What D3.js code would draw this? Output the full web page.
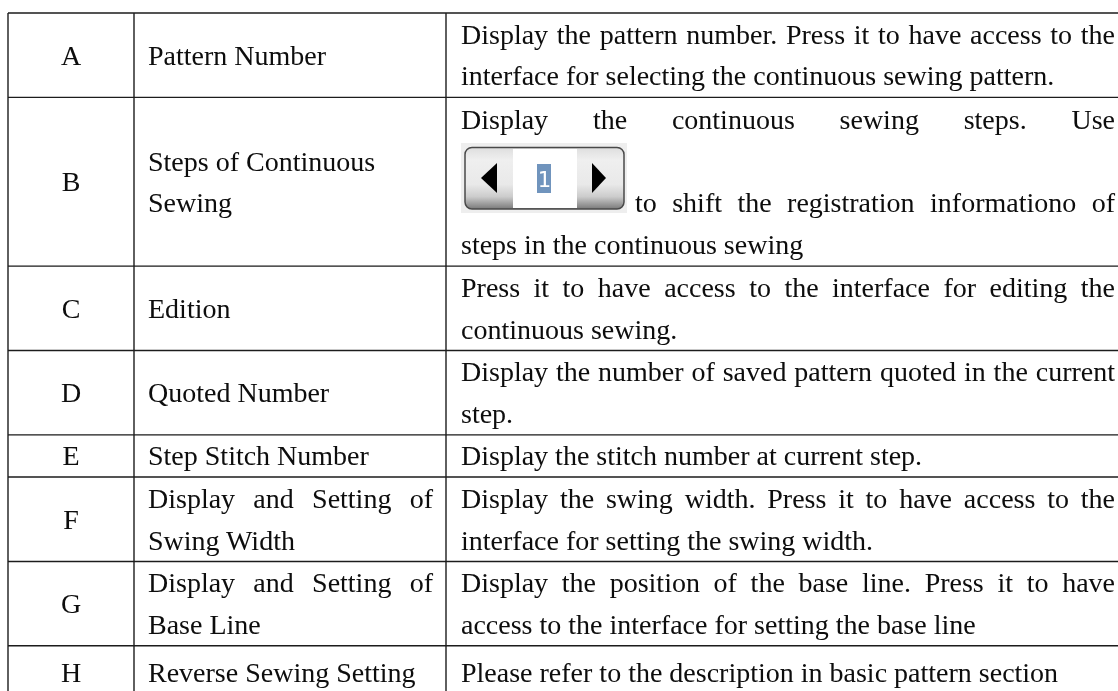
<!DOCTYPE html>
<html><head><meta charset="utf-8">
<script src="https://cdn.jsdelivr.net/npm/d3@7"></script>
<style>html,body{margin:0;padding:0;background:#fff}svg{display:block}</style></head>
<body><div id="c"></div>
<script>
const W=1118,H=691;
const rowKeys=["A","B","C","D","E","F","G","H"];
const rowUnits=[2,4,2,2,1,2,2,1.25];
const names=[["Pattern Number"],["Steps of Continuous","Sewing"],["Edition"],["Quoted Number"],["Step Stitch Number"],["Display and Setting of","Swing Width"],["Display and Setting of","Base Line"],["Reverse Sewing Setting"]];
const nameJustify=[[0],[0,0],[0],[0],[0],[1,0],[1,0],[0]];
const descriptions=[
["Display the pattern number. Press it to have access to the","interface for selecting the continuous sewing pattern."],
["Display the continuous sewing steps. Use","","to shift the registration informationo of","steps in the continuous sewing"],
["Press it to have access to the interface for editing the","continuous sewing."],
["Display the number of saved pattern quoted in the current","step."],
["Display the stitch number at current step."],
["Display the swing width. Press it to have access to the","interface for setting the swing width."],
["Display the position of the base line. Press it to have","access to the interface for setting the base line"],
["Please refer to the description in basic pattern section"]];
const descJustify=[[1,0],[1,0,1,0],[1,0],[1,0],[0],[1,0],[1,0],[0]];

const cum=[0];rowUnits.forEach(u=>cum.push(cum[cum.length-1]+u));
const y=d3.scaleLinear().domain([0,16]).range([13,688]);
const x=d3.scaleOrdinal().domain(["l","a","b","end"]).range([8,134,446,1118]);
const FS=28,LH=41.5;
const svg=d3.select("#c").append("svg").attr("width",W).attr("height",H).attr("viewBox",`0 0 ${W} ${H}`);
const defs=svg.append("defs");
const g1=defs.append("linearGradient").attr("id","btn").attr("x1",0).attr("x2",0).attr("y1",0).attr("y2",1);
[[0,"#dedede"],[0.2,"#efefef"],[0.6,"#e9e9e9"],[0.8,"#cccccc"],[1,"#7a7a7a"]].forEach(s=>g1.append("stop").attr("offset",s[0]).attr("stop-color",s[1]));
defs.append("filter").attr("id","soft").append("feGaussianBlur").attr("stdDeviation",0.35);
const root=svg.append("g").attr("filter","url(#soft)");

// rules
const rules=root.append("g").attr("stroke","#1c1c1c").attr("stroke-width",1.4);
cum.slice(0,-1).forEach(c=>rules.append("line").attr("x1",x("l")).attr("x2",W).attr("y1",y(c)).attr("y2",y(c)));
x.domain().slice(0,3).forEach(k=>rules.append("line").attr("x1",x(k)).attr("x2",x(k)).attr("y1",y(0)).attr("y2",H));

const text=root.append("g").attr("font-family","'Liberation Serif','Times New Roman',serif").attr("font-size",FS).attr("fill","#0a0a0a");
function drawLine(str,x0,x1,base,justify){
  if(!str)return;
  if(!justify){text.append("text").attr("x",x0).attr("y",base).text(str);return;}
  const words=str.split(" ");
  const ws=words.map(w=>{const t=text.append("text").attr("y",base).text(w);const l=t.node().getComputedTextLength();return{t,l};});
  const gap=(x1-x0-d3.sum(ws,d=>d.l))/(words.length-1);
  let p=x0;ws.forEach(d=>{d.t.attr("x",p);p+=d.l+gap;});
}
const base=(top,bot,n,i)=>(top+bot)/2+(i-(n-1)/2)*LH+9.5;
rowKeys.forEach((k,i)=>{
  const t=y(cum[i]),b=y(cum[i+1]);
  text.append("text").attr("x",(x("l")+x("a"))/2).attr("y",base(t,b,1,0)).attr("text-anchor","middle").text(k);
  names[i].forEach((s,j)=>drawLine(s,148,433,base(t,b,names[i].length,j),nameJustify[i][j]));
  descriptions[i].forEach((s,j)=>{
    const bs=base(t,b,descriptions[i].length,j);
    if(i===1&&j===2)drawLine(s,635,1115,bs,1);
    else drawLine(s,461,1115,bs,descJustify[i][j]);
  });
});

// stepper icon
const ic=root.append("g").attr("transform","translate(461,143)");
ic.append("rect").attr("width",166).attr("height",70).attr("fill","#eeeeee");
ic.append("rect").attr("x",4).attr("y",4.5).attr("width",159).attr("height",61.5).attr("rx",7).attr("fill","url(#btn)").attr("stroke","#4a4a4a").attr("stroke-width",1.5);
ic.append("rect").attr("x",52).attr("y",6).attr("width",64).attr("height",59).attr("fill","#fff");
ic.append("path").attr("d","M20 35L36 20V50Z").attr("fill","#000");
ic.append("path").attr("d","M145 35L131 20V50Z").attr("fill","#000");
ic.append("rect").attr("x",76).attr("y",21).attr("width",14).attr("height",29).attr("fill","#6f94bd");
ic.append("text").attr("x",83).attr("y",44).attr("text-anchor","middle").attr("font-family","'DejaVu Sans Mono',monospace").attr("font-size",22).attr("fill","#fff").text("1");
</script></body></html>
